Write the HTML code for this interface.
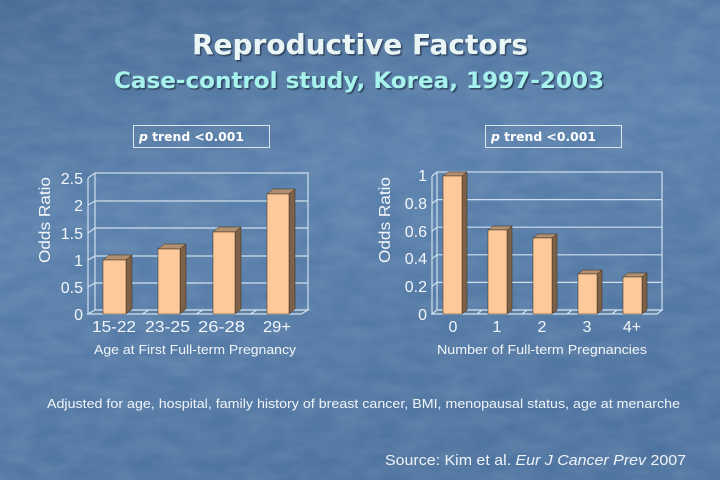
<!DOCTYPE html>
<html><head><meta charset="utf-8"><style>
html,body{margin:0;padding:0;width:720px;height:480px;overflow:hidden;background:#5278a3;}
svg{display:block;}
</style></head><body>
<svg width="720" height="480" viewBox="0 0 720 480" xmlns="http://www.w3.org/2000/svg">
<defs>
<linearGradient id="bg" x1="0" y1="0" x2="0.3" y2="1">
<stop offset="0" stop-color="#4a6d96"/>
<stop offset="0.45" stop-color="#5a81ac"/>
<stop offset="1" stop-color="#4e74a0"/>
</linearGradient>
<filter id="tex" x="0" y="0" width="100%" height="100%">
<feTurbulence type="fractalNoise" baseFrequency="0.03 0.07" numOctaves="3" seed="4" result="n"/>
<feColorMatrix type="matrix" values="0 0 0 0 1  0 0 0 0 1  0 0 0 0 1  0 0 0 0.16 -0.04"/>
</filter>
<filter id="sh"><feDropShadow dx="1.5" dy="1.5" stdDeviation="0.6" flood-color="#1a2a40" flood-opacity="0.7"/></filter>
</defs>
<rect width="720" height="480" fill="url(#bg)"/>
<rect width="720" height="480" filter="url(#tex)"/>

<!-- Titles -->
<g filter="url(#sh)" font-family="DejaVu Sans, Liberation Sans, sans-serif" font-weight="bold">
<text x="192" y="54" font-size="28" fill="#eaf5f5" textLength="336" lengthAdjust="spacingAndGlyphs">Reproductive Factors</text>
<text x="114" y="88" font-size="22" fill="#a8f2ee" textLength="490" lengthAdjust="spacingAndGlyphs">Case-control study, Korea, 1997-2003</text>
</g>

<!-- p trend boxes -->
<g font-family="DejaVu Sans, Liberation Sans, sans-serif" font-weight="bold" font-size="12" fill="#ffffff">
<rect x="133.5" y="125.5" width="136" height="22" fill="none" stroke="#d8e4f0" stroke-width="1"/>
<text x="139" y="141" textLength="105" lengthAdjust="spacingAndGlyphs"><tspan font-style="italic">p</tspan> trend &lt;0.001</text>
<rect x="485.5" y="125.5" width="136" height="22" fill="none" stroke="#d8e4f0" stroke-width="1"/>
<text x="491" y="141" textLength="105" lengthAdjust="spacingAndGlyphs"><tspan font-style="italic">p</tspan> trend &lt;0.001</text>
</g>

<!-- LEFT CHART -->
<g stroke="#cfe0ee" stroke-width="1.2" fill="none">
<rect x="95" y="173" width="213" height="137"/>
<line x1="95" y1="201" x2="308" y2="201"/>
<line x1="95" y1="228" x2="308" y2="228"/>
<line x1="95" y1="256" x2="308" y2="256"/>
<line x1="95" y1="283" x2="308" y2="283"/>
<line x1="88" y1="178" x2="88" y2="314"/>
<line x1="88" y1="178" x2="95" y2="173"/>
<line x1="88" y1="205" x2="95" y2="201"/>
<line x1="88" y1="233" x2="95" y2="228"/>
<line x1="88" y1="260" x2="95" y2="256"/>
<line x1="88" y1="287" x2="95" y2="283"/>
<path d="M88 314 L301 314 L308 310 L95 310 Z" fill="#5f7fa3"/>
<line x1="142" y1="314" x2="149" y2="310"/>
<line x1="196" y1="314" x2="203" y2="310"/>
<line x1="250" y1="314" x2="257" y2="310"/>
</g>
<g stroke="#3a2a1a" stroke-width="0.5">
<path d="M126 260 L132 255 L132 309 L126 314 Z" fill="#7d6148"/>
<path d="M103 260 L126 260 L132 255 L109 255 Z" fill="#b09070"/>
<rect x="103" y="260" width="23" height="54" fill="#fec99a"/>
<path d="M180 249 L186 244 L186 309 L180 314 Z" fill="#7d6148"/>
<path d="M158 249 L180 249 L186 244 L164 244 Z" fill="#b09070"/>
<rect x="158" y="249" width="22" height="65" fill="#fec99a"/>
<path d="M235 232 L241 227 L241 309 L235 314 Z" fill="#7d6148"/>
<path d="M213 232 L235 232 L241 227 L219 227 Z" fill="#b09070"/>
<rect x="213" y="232" width="22" height="82" fill="#fec99a"/>
<path d="M289 194 L295 189 L295 309 L289 314 Z" fill="#7d6148"/>
<path d="M267 194 L289 194 L295 189 L273 189 Z" fill="#b09070"/>
<rect x="267" y="194" width="22" height="120" fill="#fec99a"/>
</g>
<g font-family="Liberation Sans, Arial, sans-serif" fill="#f2f6fa" font-size="16">
<g text-anchor="end">
<text x="83" y="184">2.5</text>
<text x="83" y="211">2</text>
<text x="83" y="239">1.5</text>
<text x="83" y="266">1</text>
<text x="83" y="293">0.5</text>
<text x="83" y="320">0</text>
</g>
<g>
<text x="92" y="332" textLength="44" lengthAdjust="spacingAndGlyphs">15-22</text>
<text x="145" y="332" textLength="45" lengthAdjust="spacingAndGlyphs">23-25</text>
<text x="198" y="332" textLength="47" lengthAdjust="spacingAndGlyphs">26-28</text>
<text x="263" y="332" textLength="28" lengthAdjust="spacingAndGlyphs">29+</text>
</g>
<text x="94" y="354" font-size="12.5" textLength="202" lengthAdjust="spacingAndGlyphs">Age at First Full-term Pregnancy</text>
<text transform="translate(50,220) rotate(-90)" text-anchor="middle" textLength="86" lengthAdjust="spacingAndGlyphs">Odds Ratio</text>
</g>

<!-- RIGHT CHART -->
<g stroke="#cfe0ee" stroke-width="1.2" fill="none">
<rect x="437" y="172" width="225" height="138"/>
<line x1="437" y1="199.6" x2="662" y2="199.6"/>
<line x1="437" y1="227.2" x2="662" y2="227.2"/>
<line x1="437" y1="254.8" x2="662" y2="254.8"/>
<line x1="437" y1="282.4" x2="662" y2="282.4"/>
<line x1="432" y1="176" x2="432" y2="314"/>
<line x1="432" y1="176" x2="437" y2="172"/>
<line x1="432" y1="203.6" x2="437" y2="199.6"/>
<line x1="432" y1="231.2" x2="437" y2="227.2"/>
<line x1="432" y1="258.8" x2="437" y2="254.8"/>
<line x1="432" y1="286.4" x2="437" y2="282.4"/>
<path d="M432 314 L657 314 L662 310 L437 310 Z" fill="#5f7fa3"/>
<line x1="477" y1="314" x2="482" y2="310"/>
<line x1="522" y1="314" x2="527" y2="310"/>
<line x1="567" y1="314" x2="572" y2="310"/>
<line x1="612" y1="314" x2="617" y2="310"/>
</g>
<g stroke="#3a2a1a" stroke-width="0.5">
<path d="M462 176 L467 172 L467 310 L462 314 Z" fill="#7d6148"/>
<path d="M443 176 L462 176 L467 172 L448 172 Z" fill="#b09070"/>
<rect x="443" y="176" width="19" height="138" fill="#fec99a"/>
<path d="M507 230 L512 226 L512 310 L507 314 Z" fill="#7d6148"/>
<path d="M488 230 L507 230 L512 226 L493 226 Z" fill="#b09070"/>
<rect x="488" y="230" width="19" height="84" fill="#fec99a"/>
<path d="M552 238 L557 234 L557 310 L552 314 Z" fill="#7d6148"/>
<path d="M533 238 L552 238 L557 234 L538 234 Z" fill="#b09070"/>
<rect x="533" y="238" width="19" height="76" fill="#fec99a"/>
<path d="M597 274 L602 270 L602 310 L597 314 Z" fill="#7d6148"/>
<path d="M578 274 L597 274 L602 270 L583 270 Z" fill="#b09070"/>
<rect x="578" y="274" width="19" height="40" fill="#fec99a"/>
<path d="M642 277 L647 273 L647 310 L642 314 Z" fill="#7d6148"/>
<path d="M623 277 L642 277 L647 273 L628 273 Z" fill="#b09070"/>
<rect x="623" y="277" width="19" height="37" fill="#fec99a"/>
</g>
<g font-family="Liberation Sans, Arial, sans-serif" fill="#f2f6fa" font-size="16">
<g text-anchor="end">
<text x="427" y="181">1</text>
<text x="427" y="209">0.8</text>
<text x="427" y="237">0.6</text>
<text x="427" y="264">0.4</text>
<text x="427" y="292">0.2</text>
<text x="427" y="320">0</text>
</g>
<g text-anchor="middle">
<text x="453" y="332">0</text>
<text x="497" y="332">1</text>
<text x="542" y="332">2</text>
<text x="587" y="332">3</text>
<text x="632" y="332">4+</text>
</g>
<text x="437" y="354" font-size="12.5" textLength="210" lengthAdjust="spacingAndGlyphs">Number of Full-term Pregnancies</text>
<text transform="translate(390,220) rotate(-90)" text-anchor="middle" textLength="86" lengthAdjust="spacingAndGlyphs">Odds Ratio</text>
</g>

<!-- Footnotes -->
<g font-family="Liberation Sans, Arial, sans-serif" fill="#f0f4f8">
<text x="47" y="408" font-size="13" textLength="633" lengthAdjust="spacingAndGlyphs">Adjusted for age, hospital, family history of breast cancer, BMI, menopausal status, age at menarche</text>
<text x="385" y="465" font-size="15" textLength="301" lengthAdjust="spacingAndGlyphs">Source: Kim et al. <tspan font-style="italic">Eur J Cancer Prev</tspan> 2007</text>
</g>
</svg>
</body></html>
